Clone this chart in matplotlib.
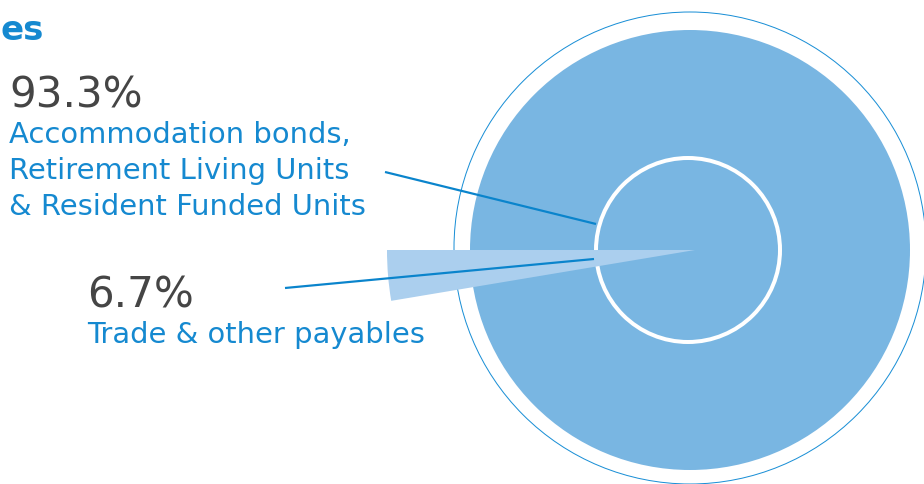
import matplotlib.pyplot as plt
from matplotlib.patches import Circle, Wedge

# data
shares = [93.3, 6.7]
share_labels = ["93.3%", "6.7%"]
categories = [["Accommodation bonds,", "Retirement Living Units", "& Resident Funded Units"],
              ["Trade & other payables"]]

blue_text = "#1589d0"
dark = "#454545"
disc = "#79b6e2"
light = "#abcfee"
PX = 0.72  # points per pixel at dpi 100

fig = plt.figure(figsize=(9.24, 4.84), dpi=100)
ax = fig.add_axes([0, 0, 1, 1])
ax.set_xlim(0, 924)
ax.set_ylim(484, 0)
ax.set_aspect("equal")
ax.axis("off")

cx, cy = 690, 250
ax.add_patch(Circle((cx, cy - 2), 236, fill=False, ec="#1a8fd6", lw=1.0 * PX))
ax.add_patch(Circle((cx, cy), 220, fc=disc, ec="none"))
ax.add_patch(Circle((cx - 2, cy), 92, fill=False, ec="white", lw=4 * PX))
ax.add_patch(Wedge((cx + 5, cy), 308, 170.5, 180, fc=light, ec="none"))

# leader lines
ax.plot([385, 596], [172, 224], color="#0a84cc", lw=2.2 * PX, solid_capstyle="butt")
ax.plot([285, 594], [288, 259], color="#0a84cc", lw=2.2 * PX, solid_capstyle="butt")

ax.text(1, 40, "es", color=blue_text, fontsize=34 * PX, fontweight="bold", va="baseline")

label_pos = [(9, 107, 143), (87, 308, 343)]
for (x, y_num, y_cat), num, lines in zip(label_pos, share_labels, categories):
    ax.text(x, y_num, num, color=dark, fontsize=42 * PX, va="baseline")
    for i, line in enumerate(lines):
        ax.text(x, y_cat + i * 36, line, color=blue_text, fontsize=29 * PX,
                va="baseline")

fig.savefig("out.png", dpi=100)
